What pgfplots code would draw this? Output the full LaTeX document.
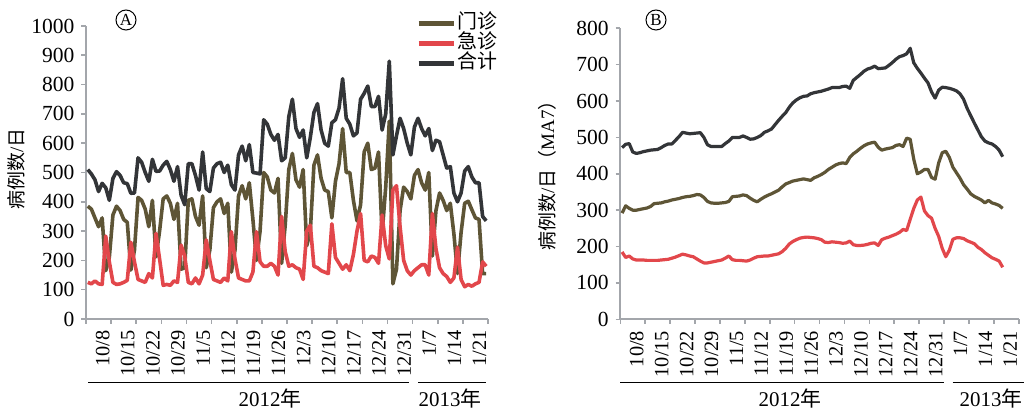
\documentclass[border=0pt]{standalone}
\usepackage{fontspec}
\setmainfont{Liberation Serif}
\newfontfamily\cjk{Noto Sans CJK SC}
\usepackage{pgfplots}
\pgfplotsset{compat=1.18}
\usepackage{pgfplotstable}
\definecolor{opc}{HTML}{5E5536}
\definecolor{erc}{HTML}{E2474B}
\definecolor{totc}{HTML}{333538}
\definecolor{axgray}{HTML}{A3A6AB}

\pgfplotstableread{
d op er tot
0 385 125 510
1 375 120 495
2 345 130 475
3 315 120 435
4 345 118 463
5 165 283 448
6 210 195 405
7 355 125 480
8 385 118 503
9 370 120 490
10 340 125 465
11 330 132 462
12 167 262 429
13 235 195 430
14 415 135 550
15 405 130 535
16 375 125 500
17 315 155 470
18 405 140 545
19 212 292 504
20 300 205 505
21 410 115 525
22 420 118 538
23 395 115 510
24 340 130 470
25 395 125 520
26 170 252 422
27 175 215 390
28 405 125 530
29 410 120 530
30 350 140 490
31 320 120 440
32 420 150 570
33 175 270 445
34 235 200 435
35 380 135 515
36 400 130 530
37 410 125 535
38 360 140 500
39 395 130 525
40 160 298 458
41 235 205 440
42 420 140 560
43 455 135 590
44 410 130 540
45 465 130 595
46 340 160 500
47 200 298 498
48 300 195 495
49 500 180 680
50 485 180 665
51 440 190 630
52 430 180 610
53 480 150 630
54 190 350 540
55 320 230 550
56 510 180 690
57 565 185 750
58 475 175 650
59 450 170 620
60 510 135 645
61 250 300 550
62 300 320 620
63 525 180 705
64 560 175 735
65 480 165 645
66 440 160 600
67 435 155 590
68 345 325 670
69 470 210 680
70 530 190 720
71 650 170 820
72 500 185 685
73 500 165 665
74 405 220 625
75 335 300 635
76 390 360 750
77 570 200 770
78 600 195 795
79 510 215 725
80 515 210 725
81 570 190 760
82 290 355 645
83 450 250 700
84 675 205 880
85 120 440 560
86 170 455 625
87 370 315 685
88 450 200 650
89 435 165 600
90 410 150 560
91 490 165 655
92 510 175 685
93 465 185 650
94 440 185 625
95 500 150 650
96 215 360 575
97 370 240 610
98 430 175 605
99 405 155 560
100 370 145 515
101 395 125 520
102 290 140 430
103 155 245 400
104 295 135 430
105 395 110 505
106 402 118 520
107 373 112 485
108 345 120 465
109 340 125 465
110 155 195 350
111 155 180 335
}\dataA

\pgfplotstableread{
d tot op er
0 472 292 185
1 481 312 170
2 483 305 174
3 460 300 166
4 456 300 163
5 458 302 163
6 461 304 163
7 463 306 162
8 465 310 162
9 466 318 162
10 467 319 162
11 472 320 163
12 478 323 164
13 482 325 165
14 482 328 168
15 492 330 171
16 502 332 175
17 514 335 179
18 512 337 177
19 510 338 174
20 511 340 172
21 512 343 166
22 513 342 160
23 500 335 155
24 480 324 155
25 475 320 157
26 475 319 159
27 475 319 161
28 475 320 163
29 483 321 168
30 490 324 174
31 500 337 164
32 500 338 162
33 500 339 162
34 504 342 161
35 500 340 160
36 495 333 163
37 496 327 168
38 500 323 172
39 505 330 173
40 514 336 174
41 518 341 174
42 523 345 176
43 535 350 178
44 547 355 180
45 558 364 186
46 568 372 195
47 583 376 207
48 595 380 214
49 603 382 219
50 609 384 223
51 613 386 225
52 614 384 226
53 620 382 225
54 623 389 224
55 625 393 222
56 627 398 219
57 630 404 212
58 633 412 211
59 637 418 213
60 637 424 212
61 637 428 211
62 640 430 209
63 641 428 210
64 635 445 215
65 657 455 205
66 665 462 203
67 673 470 203
68 682 477 204
69 688 482 206
70 691 485 209
71 696 487 210
72 689 473 203
73 690 465 219
74 691 468 223
75 698 470 226
76 706 472 230
77 715 478 234
78 722 480 239
79 725 475 247
80 730 498 244
81 745 495 275
82 705 440 305
83 690 400 328
84 677 405 336
85 663 412 298
86 650 412 285
87 625 390 278
88 608 385 250
89 630 430 228
90 638 458 195
91 637 462 172
92 635 445 190
93 632 418 220
94 628 403 224
95 620 388 224
96 605 370 222
97 580 358 216
98 560 345 212
99 540 338 208
100 521 333 198
101 502 328 192
102 490 320 183
103 485 327 176
104 482 320 169
105 475 317 165
106 465 313 160
107 447 305 143
}\dataB

\pgfplotsset{
  panel/.style={
    scale only axis,
    axis x line=bottom, axis y line=left,
    axis line style={-, axgray, line width=1.1bp},
    tick align=outside,
    major tick length=2.3bp, minor tick length=2.3bp,
    tick style={axgray, line width=0.8bp},
    major x tick style={draw=none},
    xmin=-0.5, xmax=111.5,
    xtick={3.3,10.3,17.3,24.3,31.3,38.3,45.3,52.3,59.3,66.3,73.3,80.3,87.3,94.3,101.3,108.3},
    xticklabels={10/8,10/15,10/22,10/29,11/5,11/12,11/19,11/26,12/3,12/10,12/17,12/24,12/31,1/7,1/14,1/21},
    minor xtick={-0.5,6.5,...,111.5},
    xticklabel style={rotate=90, anchor=east, yshift=-1.5bp, font=\fontsize{10.2}{11}\selectfont},
    yticklabel style={font=\fontsize{10.8}{12}\selectfont},
    /pgf/number format/assume math mode=true,
    /pgf/number format/1000 sep={},
    clip=false,
  }
}

\begin{document}
\begin{tikzpicture}
\path[use as bounding box] (0,0) rectangle (512bp,206bp);

% Panel A
\begin{axis}[panel,
  at={(43bp,46.5bp)}, anchor=south west,
  width=201bp, height=146.5bp,
  ymin=0, ymax=1000, ytick={0,100,...,1000},
  legend style={at={(0.82,1.043)}, anchor=north west, draw=none, fill=none,
    inner sep=0pt, row sep=0.3bp,
    font=\fontsize{10}{10}\selectfont,
    nodes={text height=7bp, text depth=1.5bp, inner sep=0.6bp}},
  legend cell align=left,
  legend image code/.code={\draw[#1, line width=2.6bp] (0bp,0bp) -- (17.5bp,0bp);},
]
\addplot[opc, line width=1.8bp, line join=round] table[x=d, y=op]{\dataA};
\addlegendentry{\cjk 门诊}
\addplot[erc, line width=1.8bp, line join=round] table[x=d, y=er]{\dataA};
\addlegendentry{\cjk 急诊}
\addplot[totc, line width=1.8bp, line join=round] table[x=d, y=tot]{\dataA};
\addlegendentry{\cjk 合计}
\end{axis}

% Panel B
\begin{axis}[panel,
  at={(310.15bp,46.35bp)}, anchor=south west,
  width=199.2bp, height=145.5bp,
  ymin=0, ymax=800, ytick={0,100,...,800},
]
\addplot[totc, line width=1.6bp, line join=round] table[x=d, y=tot]{\dataB};
\addplot[opc, line width=1.6bp, line join=round] table[x=d, y=op]{\dataB};
\addplot[erc, line width=1.6bp, line join=round] table[x=d, y=er]{\dataB};
\end{axis}

% circled panel letters
\node[circle, draw, line width=0.5bp, inner sep=0pt, minimum size=10bp, font=\fontsize{8.5}{9}\selectfont] at (63bp,196bp) {A};
\node[circle, draw, line width=0.5bp, inner sep=0pt, minimum size=10bp, font=\fontsize{8.5}{9}\selectfont] at (328bp,196bp) {B};

% y labels
\node[rotate=90, font=\fontsize{9.5}{10}\selectfont] at (8bp,121.5bp) {{\cjk 病例数}/{\cjk 日}};
\node[rotate=90, font=\fontsize{9.5}{10}\selectfont] at (273.5bp,120.5bp) {{\cjk 病例数}/{\cjk 日（}MA7{\cjk ）}};

% year brackets
\draw[black, line width=0.6bp] (44bp,14.65bp) -- (204.5bp,14.65bp);
\draw[black, line width=0.6bp] (209bp,14.65bp) -- (243bp,14.65bp);
\node[font=\fontsize{10.5}{12}\selectfont] at (135bp,6.65bp) {2012{\cjk 年}};
\node[font=\fontsize{10.5}{12}\selectfont] at (225bp,6.65bp) {2013{\cjk 年}};
\draw[black, line width=0.6bp] (310bp,14.65bp) -- (471.85bp,14.65bp);
\draw[black, line width=0.6bp] (476.35bp,14.65bp) -- (512bp,14.65bp);
\node[font=\fontsize{10.5}{12}\selectfont] at (395bp,6.65bp) {2012{\cjk 年}};
\node[font=\fontsize{10.5}{12}\selectfont] at (495.5bp,6.65bp) {2013{\cjk 年}};
\end{tikzpicture}
\end{document}
